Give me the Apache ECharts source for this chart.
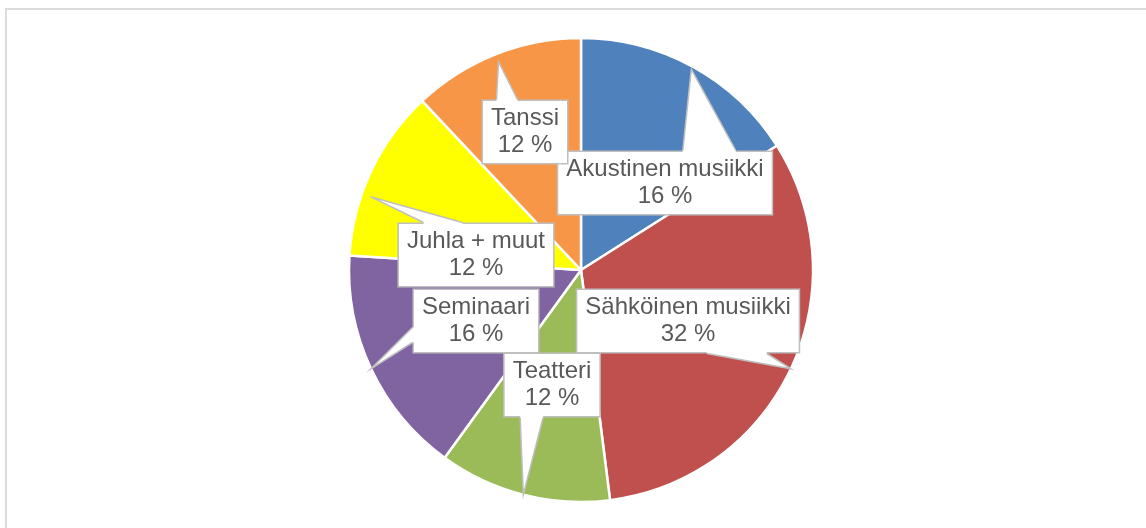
<!DOCTYPE html>
<html>
<head>
<meta charset="utf-8">
<script src="https://cdn.jsdelivr.net/npm/echarts@6/dist/echarts.min.js"></script>
<style>
  html, body { margin: 0; padding: 0; background: #fff; }
  #frame { position: absolute; left: 5px; top: 8px; width: 1141px; height: 520px;
           border-top: 2px solid #dcdcdc; border-left: 2px solid #dcdcdc; box-sizing: border-box; }
  #chart { position: absolute; left: 0; top: 0; width: 1146px; height: 528px; }
</style>
</head>
<body>
<div id="frame"></div>
<div id="chart"></div>
<script>
const categories = ['Akustinen musiikki', 'Sähköinen musiikki', 'Teatteri', 'Seminaari', 'Juhla + muut', 'Tanssi'];
const values = [16, 32, 12, 16, 12, 12];
const colors = ['#4F81BD', '#C0504D', '#9BBB59', '#8064A2', '#FFFF00', '#F79646'];

// callout layout: label box centres, where each pointer leaves its box,
// and small tweaks of the pointer tip (degrees clockwise, pixels radially)
const pieCenter = [581, 270];
const labelPos = [[665, 183], [688, 321], [552, 385], [476, 321], [476, 255], [525, 132]];
const pointerBase = [
  ['top', 126, 179], ['bottom', 131, 191], ['bottom', 17, 40],
  ['left', 39, 54], ['top', 26, 65], ['top', 15, 36]
];
const tipTweak = [[0, -3], [0, 0], [0, 0], [0, 0], [-6, -9], [0, -8]];

const tips = [];
const boxes = [];

const chart = echarts.init(document.getElementById('chart'), null, { renderer: 'canvas' });

chart.setOption({
  animation: false,
  series: [{
    type: 'pie',
    center: pieCenter,
    radius: [0, 232],
    startAngle: 90,
    clockwise: true,
    avoidLabelOverlap: false,
    itemStyle: { borderColor: '#ffffff', borderWidth: 2.5 },
    data: categories.map((c, i) => ({ name: c, value: values[i], itemStyle: { color: colors[i] } })),
    label: {
      show: true,
      position: 'outside',
      formatter: '{b}\n{c} %',
      fontFamily: 'Liberation Sans, Arial, sans-serif',
      fontSize: 24,
      lineHeight: 27,
      color: '#595959',
      align: 'center',
      backgroundColor: '#ffffff',
      borderColor: '#bfbfbf',
      borderWidth: 1.5,
      padding: [4, 8, 4, 8]
    },
    labelLine: {
      show: true,
      length: 0,
      length2: 0,
      smooth: false,
      lineStyle: { color: '#bfbfbf', width: 0, opacity: 0 }
    },
    labelLayout: function (params) {
      const i = params.dataIndex;
      const p = labelPos[i];
      if (params.labelLinePoints && params.labelLinePoints[0]) {
        tips[i] = params.labelLinePoints[0].slice();
      }
      const w = params.labelRect.width, h = params.labelRect.height;
      boxes[i] = { left: p[0] - w / 2, top: p[1] - h / 2, right: p[0] + w / 2, bottom: p[1] + h / 2 };
      return { x: p[0], y: p[1], align: 'center', verticalAlign: 'middle' };
    },
    emphasis: { disabled: true }
  }]
});

function tweakTip(pt, tw) {
  const dx = pt[0] - pieCenter[0], dy = pt[1] - pieCenter[1];
  const r = Math.sqrt(dx * dx + dy * dy) + tw[1];
  const ang = Math.atan2(dy, dx) + tw[0] * Math.PI / 180;
  return [pieCenter[0] + r * Math.cos(ang), pieCenter[1] + r * Math.sin(ang)];
}

const elements = [];
for (let i = 0; i < categories.length; i++) {
  const b = boxes[i];
  if (!tips[i] || !b) continue;
  const tip = tweakTip(tips[i], tipTweak[i]);
  const [side, o1, o2] = pointerBase[i];
  let a, c, ai, ci;
  if (side === 'top') {
    a = [b.left + o1, b.top]; c = [b.left + o2, b.top];
    ai = [a[0], a[1] + 1.5]; ci = [c[0], c[1] + 1.5];
  } else if (side === 'bottom') {
    a = [b.left + o1, b.bottom]; c = [b.left + o2, b.bottom];
    ai = [a[0], a[1] - 1.5]; ci = [c[0], c[1] - 1.5];
  } else if (side === 'left') {
    a = [b.left, b.top + o1]; c = [b.left, b.top + o2];
    ai = [a[0] + 1.5, a[1]]; ci = [c[0] + 1.5, c[1]];
  } else {
    a = [b.right, b.top + o1]; c = [b.right, b.top + o2];
    ai = [a[0] - 1.5, a[1]]; ci = [c[0] - 1.5, c[1]];
  }
  elements.push({
    type: 'polygon', z: 100, silent: true,
    shape: { points: [ai, a, tip, c, ci] },
    style: { fill: '#ffffff', stroke: null }
  });
  elements.push({
    type: 'polyline', z: 101, silent: true,
    shape: { points: [a, tip, c] },
    style: { stroke: '#bfbfbf', lineWidth: 1.5, fill: null, lineJoin: 'miter' }
  });
}
chart.setOption({ graphic: { elements: elements } });
</script>
</body>
</html>
